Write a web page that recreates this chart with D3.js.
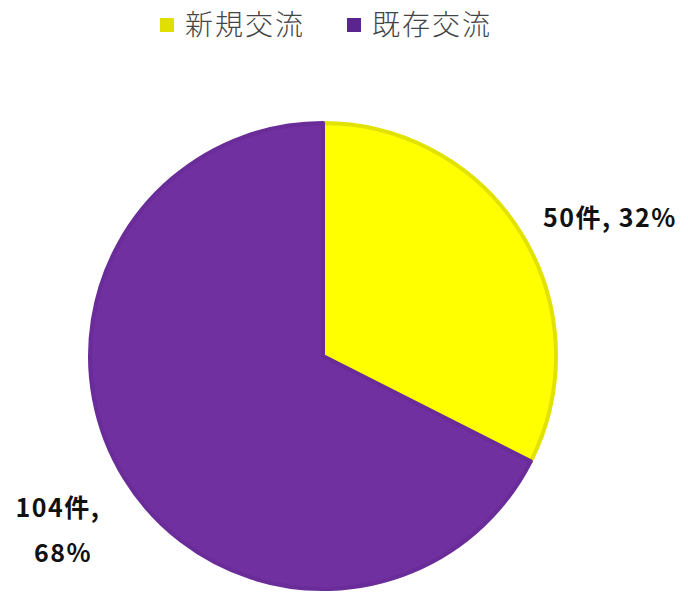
<!DOCTYPE html>
<html>
<head>
<meta charset="utf-8">
<script src="https://cdn.jsdelivr.net/npm/d3@7"></script>
<style>
  body { margin: 0; background: #fff; }
  text { font-family: "Noto Sans CJK JP", "Noto Sans", sans-serif; }
</style>
</head>
<body>
<div id="chart"></div>
<script>
// data
var categories = ["新規交流", "既存交流"];
var counts = [50, 104];
var percents = ["32%", "68%"];
var fills = ["#FFFF00", "#7030A0"];
var strokes = ["#E2E200", "#6A2C98"];

var width = 688, height = 595;
var cx = 323, cy = 356, radius = 233;

var svg = d3.select("#chart").append("svg")
    .attr("width", width)
    .attr("height", height);

var pie = d3.pie().sort(null).value(function (d) { return d; });
var arcs = pie(counts);

var arc = d3.arc().innerRadius(0).outerRadius(radius);

var g = svg.append("g")
    .attr("transform", "translate(" + cx + "," + cy + ")");

g.selectAll("path")
    .data(arcs)
    .enter().append("path")
    .attr("d", arc)
    .attr("fill", function (d, i) { return fills[i]; })
    .attr("stroke", function (d, i) { return strokes[i]; })
    .attr("stroke-width", 4)
    .attr("stroke-linejoin", "round");

// labels
var labelG = svg.append("g").attr("font-weight", "bold").attr("fill", "#111")
    .attr("font-size", 25).attr("letter-spacing", 1.5);

labelG.append("text")
    .attr("x", 543).attr("y", 227)
    .text(counts[0] + "件, " + percents[0]);

labelG.append("text")
    .attr("x", 58).attr("y", 517)
    .attr("text-anchor", "middle")
    .text(counts[1] + "件,");

labelG.append("text")
    .attr("x", 63).attr("y", 562)
    .attr("text-anchor", "middle")
    .text(percents[1]);

// legend
var legendX = [160, 347];
var legend = svg.append("g");
categories.forEach(function (c, i) {
    legend.append("rect")
        .attr("x", legendX[i]).attr("y", 18)
        .attr("width", 14).attr("height", 14)
        .attr("fill", i === 0 ? "#E0E000" : "#5B2590");
    legend.append("text")
        .attr("x", legendX[i] + 25).attr("y", 35)
        .attr("font-size", 28)
        .attr("font-weight", 300)
        .attr("fill", "#444")
        .attr("letter-spacing", 2)
        .text(c);
});
</script>
</body>
</html>
